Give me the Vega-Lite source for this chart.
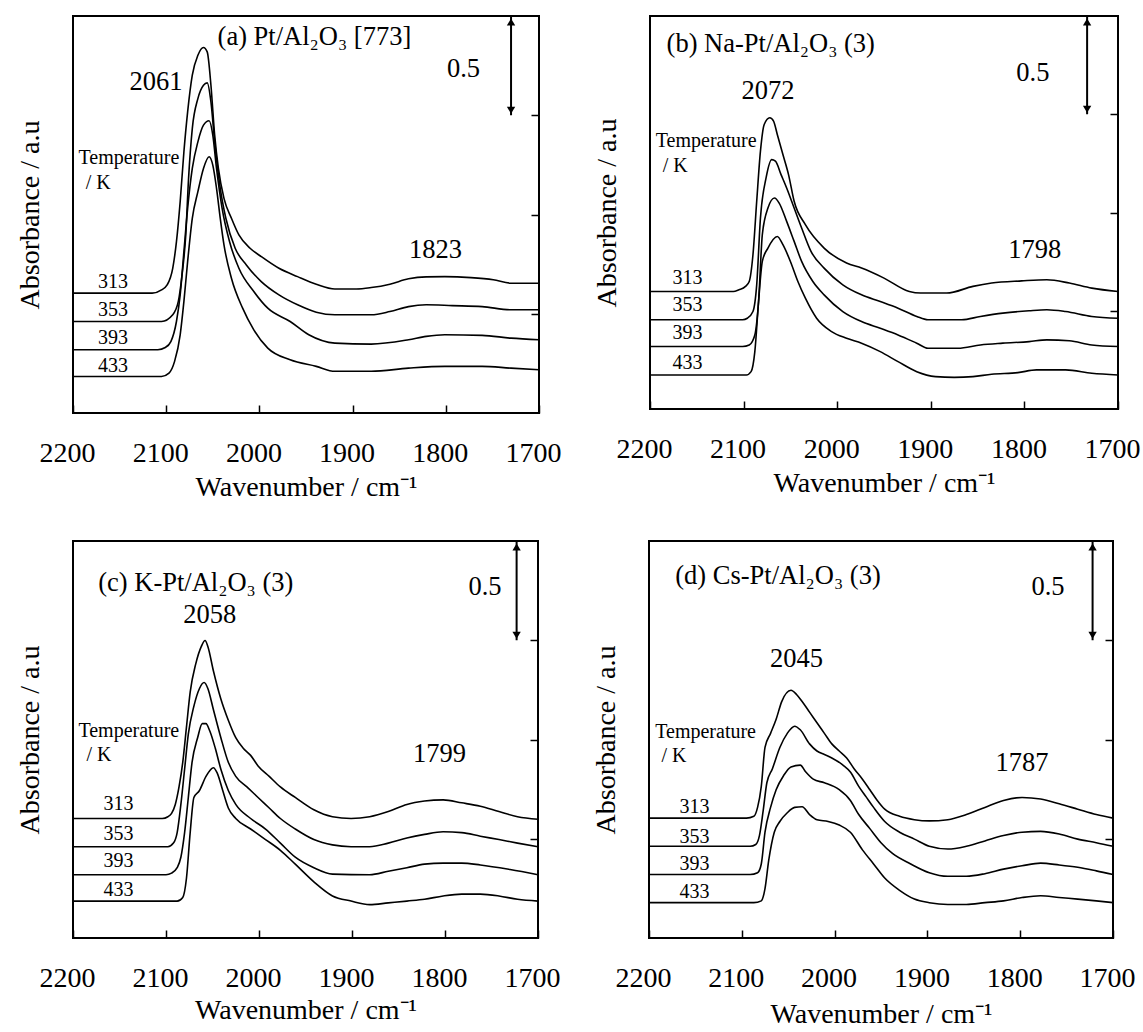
{
"$schema": "https://vega.github.io/schema/vega-lite/v6.json",
"padding": {"top": 14, "left": 15, "right": 0, "bottom": 0},
"background": "white",
"config": {
  "font": "Liberation Serif",
  "text": {"font": "Liberation Serif", "color": "black"},
  "view": {"stroke": "black", "strokeWidth": 2},
  "axis": {"labelFont": "Liberation Serif", "titleFont": "Liberation Serif", "labelColor": "black", "titleColor": "black", "titleFontWeight": "normal", "labelFontSize": 28, "titleFontSize": 28, "tickColor": "black", "tickWidth": 1.5, "grid": false, "domain": false}
},
"datasets": {
"a_c": [
{"T":"313","wn":2200,"v":0.604},{"T":"313","wn":2115,"v":0.604},{"T":"313","wn":2105,"v":0.620},{"T":"313","wn":2099,"v":0.645},{"T":"313","wn":2093,"v":0.729},{"T":"313","wn":2089,"v":0.863},{"T":"313","wn":2085,"v":1.065},{"T":"313","wn":2081,"v":1.316},{"T":"313","wn":2077,"v":1.517},{"T":"313","wn":2072,"v":1.702},{"T":"313","wn":2066,"v":1.802},{"T":"313","wn":2060,"v":1.841},{"T":"313","wn":2056,"v":1.819},{"T":"313","wn":2052,"v":1.651},{"T":"313","wn":2048,"v":1.400},{"T":"313","wn":2044,"v":1.232},{"T":"313","wn":2038,"v":1.081},{"T":"313","wn":2030,"v":0.981},{"T":"313","wn":2022,"v":0.897},{"T":"313","wn":2010,"v":0.830},{"T":"313","wn":1998,"v":0.788},{"T":"313","wn":1979,"v":0.729},{"T":"313","wn":1959,"v":0.687},{"T":"313","wn":1939,"v":0.649},{"T":"313","wn":1919,"v":0.625},{"T":"313","wn":1896,"v":0.625},{"T":"313","wn":1880,"v":0.632},{"T":"313","wn":1860,"v":0.649},{"T":"313","wn":1840,"v":0.676},{"T":"313","wn":1821,"v":0.686},{"T":"313","wn":1801,"v":0.687},{"T":"313","wn":1773,"v":0.682},{"T":"313","wn":1749,"v":0.671},{"T":"313","wn":1730,"v":0.654},{"T":"313","wn":1700,"v":0.654},
{"T":"353","wn":2200,"v":0.461},{"T":"353","wn":2105,"v":0.461},{"T":"353","wn":2093,"v":0.495},{"T":"353","wn":2087,"v":0.562},{"T":"353","wn":2083,"v":0.696},{"T":"353","wn":2079,"v":0.897},{"T":"353","wn":2076,"v":1.182},{"T":"353","wn":2072,"v":1.433},{"T":"353","wn":2066,"v":1.584},{"T":"353","wn":2060,"v":1.651},{"T":"353","wn":2056,"v":1.663},{"T":"353","wn":2052,"v":1.567},{"T":"353","wn":2048,"v":1.366},{"T":"353","wn":2042,"v":1.132},{"T":"353","wn":2036,"v":0.981},{"T":"353","wn":2026,"v":0.830},{"T":"353","wn":2014,"v":0.746},{"T":"353","wn":1998,"v":0.662},{"T":"353","wn":1979,"v":0.595},{"T":"353","wn":1959,"v":0.545},{"T":"353","wn":1939,"v":0.508},{"T":"353","wn":1919,"v":0.495},{"T":"353","wn":1880,"v":0.495},{"T":"353","wn":1860,"v":0.511},{"T":"353","wn":1840,"v":0.536},{"T":"353","wn":1821,"v":0.545},{"T":"353","wn":1793,"v":0.541},{"T":"353","wn":1761,"v":0.536},{"T":"353","wn":1730,"v":0.520},{"T":"353","wn":1700,"v":0.520},
{"T":"393","wn":2200,"v":0.319},{"T":"393","wn":2109,"v":0.319},{"T":"393","wn":2101,"v":0.330},{"T":"393","wn":2095,"v":0.360},{"T":"393","wn":2089,"v":0.461},{"T":"393","wn":2085,"v":0.595},{"T":"393","wn":2081,"v":0.813},{"T":"393","wn":2077,"v":1.031},{"T":"393","wn":2072,"v":1.232},{"T":"393","wn":2066,"v":1.366},{"T":"393","wn":2060,"v":1.450},{"T":"393","wn":2054,"v":1.472},{"T":"393","wn":2050,"v":1.400},{"T":"393","wn":2046,"v":1.232},{"T":"393","wn":2040,"v":1.031},{"T":"393","wn":2032,"v":0.863},{"T":"393","wn":2022,"v":0.729},{"T":"393","wn":2006,"v":0.612},{"T":"393","wn":1991,"v":0.528},{"T":"393","wn":1967,"v":0.461},{"T":"393","wn":1947,"v":0.394},{"T":"393","wn":1919,"v":0.352},{"T":"393","wn":1880,"v":0.347},{"T":"393","wn":1840,"v":0.369},{"T":"393","wn":1821,"v":0.386},{"T":"393","wn":1801,"v":0.394},{"T":"393","wn":1761,"v":0.391},{"T":"393","wn":1730,"v":0.377},{"T":"393","wn":1700,"v":0.369},
{"T":"433","wn":2200,"v":0.184},{"T":"433","wn":2105,"v":0.184},{"T":"433","wn":2097,"v":0.201},{"T":"433","wn":2091,"v":0.260},{"T":"433","wn":2085,"v":0.394},{"T":"433","wn":2081,"v":0.562},{"T":"433","wn":2077,"v":0.763},{"T":"433","wn":2072,"v":0.981},{"T":"433","wn":2066,"v":1.115},{"T":"433","wn":2060,"v":1.232},{"T":"433","wn":2054,"v":1.291},{"T":"433","wn":2050,"v":1.249},{"T":"433","wn":2046,"v":1.132},{"T":"433","wn":2042,"v":0.981},{"T":"433","wn":2038,"v":0.847},{"T":"433","wn":2030,"v":0.679},{"T":"433","wn":2018,"v":0.528},{"T":"433","wn":2006,"v":0.419},{"T":"433","wn":1991,"v":0.327},{"T":"433","wn":1967,"v":0.268},{"T":"433","wn":1939,"v":0.235},{"T":"433","wn":1919,"v":0.210},{"T":"433","wn":1880,"v":0.210},{"T":"433","wn":1840,"v":0.226},{"T":"433","wn":1801,"v":0.235},{"T":"433","wn":1761,"v":0.235},{"T":"433","wn":1730,"v":0.226},{"T":"433","wn":1700,"v":0.218}
],
"b_c": [
{"T":"313","wn":2200,"v":0.598},{"T":"313","wn":2111,"v":0.598},{"T":"313","wn":2105,"v":0.607},{"T":"313","wn":2098,"v":0.624},{"T":"313","wn":2094,"v":0.649},{"T":"313","wn":2090,"v":0.785},{"T":"313","wn":2086,"v":1.057},{"T":"313","wn":2082,"v":1.312},{"T":"313","wn":2078,"v":1.448},{"T":"313","wn":2072,"v":1.482},{"T":"313","wn":2068,"v":1.465},{"T":"313","wn":2064,"v":1.397},{"T":"313","wn":2058,"v":1.295},{"T":"313","wn":2052,"v":1.193},{"T":"313","wn":2046,"v":1.057},{"T":"313","wn":2034,"v":0.938},{"T":"313","wn":2014,"v":0.819},{"T":"313","wn":1990,"v":0.743},{"T":"313","wn":1974,"v":0.717},{"T":"313","wn":1950,"v":0.666},{"T":"313","wn":1923,"v":0.598},{"T":"313","wn":1911,"v":0.590},{"T":"313","wn":1883,"v":0.590},{"T":"313","wn":1855,"v":0.624},{"T":"313","wn":1835,"v":0.641},{"T":"313","wn":1803,"v":0.652},{"T":"313","wn":1776,"v":0.658},{"T":"313","wn":1752,"v":0.641},{"T":"313","wn":1728,"v":0.615},{"T":"313","wn":1700,"v":0.598},
{"T":"353","wn":2200,"v":0.454},{"T":"353","wn":2101,"v":0.454},{"T":"353","wn":2096,"v":0.462},{"T":"353","wn":2090,"v":0.496},{"T":"353","wn":2086,"v":0.632},{"T":"353","wn":2082,"v":0.972},{"T":"353","wn":2076,"v":1.176},{"T":"353","wn":2070,"v":1.269},{"T":"353","wn":2066,"v":1.261},{"T":"353","wn":2060,"v":1.193},{"T":"353","wn":2054,"v":1.125},{"T":"353","wn":2046,"v":1.023},{"T":"353","wn":2038,"v":0.921},{"T":"353","wn":2028,"v":0.802},{"T":"353","wn":2014,"v":0.717},{"T":"353","wn":1994,"v":0.632},{"T":"353","wn":1974,"v":0.581},{"T":"353","wn":1954,"v":0.547},{"T":"353","wn":1935,"v":0.513},{"T":"353","wn":1915,"v":0.471},{"T":"353","wn":1903,"v":0.454},{"T":"353","wn":1867,"v":0.454},{"T":"353","wn":1847,"v":0.471},{"T":"353","wn":1823,"v":0.488},{"T":"353","wn":1795,"v":0.500},{"T":"353","wn":1776,"v":0.505},{"T":"353","wn":1756,"v":0.496},{"T":"353","wn":1728,"v":0.471},{"T":"353","wn":1700,"v":0.462},
{"T":"393","wn":2200,"v":0.318},{"T":"393","wn":2101,"v":0.318},{"T":"393","wn":2094,"v":0.326},{"T":"393","wn":2088,"v":0.377},{"T":"393","wn":2084,"v":0.547},{"T":"393","wn":2080,"v":0.887},{"T":"393","wn":2074,"v":1.023},{"T":"393","wn":2067,"v":1.074},{"T":"393","wn":2062,"v":1.048},{"T":"393","wn":2054,"v":0.955},{"T":"393","wn":2046,"v":0.853},{"T":"393","wn":2038,"v":0.751},{"T":"393","wn":2026,"v":0.649},{"T":"393","wn":2014,"v":0.581},{"T":"393","wn":1994,"v":0.496},{"T":"393","wn":1974,"v":0.445},{"T":"393","wn":1954,"v":0.411},{"T":"393","wn":1935,"v":0.377},{"T":"393","wn":1915,"v":0.335},{"T":"393","wn":1903,"v":0.309},{"T":"393","wn":1871,"v":0.309},{"T":"393","wn":1847,"v":0.326},{"T":"393","wn":1823,"v":0.335},{"T":"393","wn":1795,"v":0.343},{"T":"393","wn":1776,"v":0.352},{"T":"393","wn":1752,"v":0.347},{"T":"393","wn":1728,"v":0.326},{"T":"393","wn":1700,"v":0.318},
{"T":"433","wn":2200,"v":0.173},{"T":"433","wn":2097,"v":0.173},{"T":"433","wn":2092,"v":0.190},{"T":"433","wn":2088,"v":0.292},{"T":"433","wn":2084,"v":0.547},{"T":"433","wn":2080,"v":0.751},{"T":"433","wn":2074,"v":0.819},{"T":"433","wn":2064,"v":0.878},{"T":"433","wn":2058,"v":0.836},{"T":"433","wn":2050,"v":0.751},{"T":"433","wn":2042,"v":0.649},{"T":"433","wn":2034,"v":0.564},{"T":"433","wn":2022,"v":0.462},{"T":"433","wn":2006,"v":0.394},{"T":"433","wn":1990,"v":0.360},{"T":"433","wn":1974,"v":0.335},{"T":"433","wn":1954,"v":0.292},{"T":"433","wn":1935,"v":0.241},{"T":"433","wn":1915,"v":0.190},{"T":"433","wn":1895,"v":0.165},{"T":"433","wn":1875,"v":0.161},{"T":"433","wn":1855,"v":0.165},{"T":"433","wn":1835,"v":0.177},{"T":"433","wn":1807,"v":0.185},{"T":"433","wn":1787,"v":0.199},{"T":"433","wn":1756,"v":0.199},{"T":"433","wn":1728,"v":0.182},{"T":"433","wn":1700,"v":0.173}
],
"c_c": [
{"T":"313","wn":2200,"v":0.602},{"T":"313","wn":2104,"v":0.602},{"T":"313","wn":2098,"v":0.611},{"T":"313","wn":2094,"v":0.628},{"T":"313","wn":2090,"v":0.673},{"T":"313","wn":2086,"v":0.761},{"T":"313","wn":2082,"v":0.885},{"T":"313","wn":2078,"v":1.062},{"T":"313","wn":2074,"v":1.239},{"T":"313","wn":2068,"v":1.381},{"T":"313","wn":2062,"v":1.469},{"T":"313","wn":2058,"v":1.499},{"T":"313","wn":2055,"v":1.469},{"T":"313","wn":2049,"v":1.345},{"T":"313","wn":2041,"v":1.204},{"T":"313","wn":2033,"v":1.097},{"T":"313","wn":2025,"v":1.009},{"T":"313","wn":2017,"v":0.956},{"T":"313","wn":2009,"v":0.920},{"T":"313","wn":2001,"v":0.867},{"T":"313","wn":1989,"v":0.814},{"T":"313","wn":1977,"v":0.761},{"T":"313","wn":1961,"v":0.708},{"T":"313","wn":1941,"v":0.646},{"T":"313","wn":1921,"v":0.611},{"T":"313","wn":1901,"v":0.602},{"T":"313","wn":1881,"v":0.611},{"T":"313","wn":1861,"v":0.637},{"T":"313","wn":1841,"v":0.673},{"T":"313","wn":1822,"v":0.690},{"T":"313","wn":1802,"v":0.696},{"T":"313","wn":1782,"v":0.681},{"T":"313","wn":1762,"v":0.664},{"T":"313","wn":1742,"v":0.637},{"T":"313","wn":1722,"v":0.611},{"T":"313","wn":1700,"v":0.598},
{"T":"353","wn":2200,"v":0.460},{"T":"353","wn":2098,"v":0.460},{"T":"353","wn":2092,"v":0.478},{"T":"353","wn":2088,"v":0.531},{"T":"353","wn":2084,"v":0.673},{"T":"353","wn":2080,"v":0.850},{"T":"353","wn":2076,"v":1.027},{"T":"353","wn":2070,"v":1.168},{"T":"353","wn":2064,"v":1.257},{"T":"353","wn":2059,"v":1.287},{"T":"353","wn":2055,"v":1.257},{"T":"353","wn":2049,"v":1.150},{"T":"353","wn":2041,"v":1.009},{"T":"353","wn":2033,"v":0.885},{"T":"353","wn":2025,"v":0.814},{"T":"353","wn":2013,"v":0.761},{"T":"353","wn":2001,"v":0.708},{"T":"353","wn":1989,"v":0.655},{"T":"353","wn":1977,"v":0.602},{"T":"353","wn":1961,"v":0.549},{"T":"353","wn":1941,"v":0.496},{"T":"353","wn":1921,"v":0.469},{"T":"353","wn":1901,"v":0.460},{"T":"353","wn":1881,"v":0.460},{"T":"353","wn":1861,"v":0.478},{"T":"353","wn":1841,"v":0.504},{"T":"353","wn":1822,"v":0.522},{"T":"353","wn":1802,"v":0.535},{"T":"353","wn":1782,"v":0.531},{"T":"353","wn":1762,"v":0.513},{"T":"353","wn":1742,"v":0.496},{"T":"353","wn":1722,"v":0.478},{"T":"353","wn":1700,"v":0.460},
{"T":"393","wn":2200,"v":0.319},{"T":"393","wn":2100,"v":0.319},{"T":"393","wn":2094,"v":0.327},{"T":"393","wn":2088,"v":0.354},{"T":"393","wn":2084,"v":0.407},{"T":"393","wn":2080,"v":0.531},{"T":"393","wn":2076,"v":0.708},{"T":"393","wn":2072,"v":0.885},{"T":"393","wn":2066,"v":1.009},{"T":"393","wn":2061,"v":1.080},{"T":"393","wn":2057,"v":1.080},{"T":"393","wn":2053,"v":1.044},{"T":"393","wn":2047,"v":0.956},{"T":"393","wn":2041,"v":0.850},{"T":"393","wn":2033,"v":0.743},{"T":"393","wn":2025,"v":0.673},{"T":"393","wn":2009,"v":0.602},{"T":"393","wn":1993,"v":0.549},{"T":"393","wn":1977,"v":0.478},{"T":"393","wn":1961,"v":0.407},{"T":"393","wn":1941,"v":0.354},{"T":"393","wn":1921,"v":0.322},{"T":"393","wn":1881,"v":0.319},{"T":"393","wn":1861,"v":0.336},{"T":"393","wn":1841,"v":0.354},{"T":"393","wn":1822,"v":0.372},{"T":"393","wn":1802,"v":0.377},{"T":"393","wn":1782,"v":0.377},{"T":"393","wn":1762,"v":0.368},{"T":"393","wn":1730,"v":0.345},{"T":"393","wn":1700,"v":0.319},
{"T":"433","wn":2200,"v":0.186},{"T":"433","wn":2088,"v":0.186},{"T":"433","wn":2082,"v":0.204},{"T":"433","wn":2078,"v":0.301},{"T":"433","wn":2074,"v":0.531},{"T":"433","wn":2070,"v":0.708},{"T":"433","wn":2064,"v":0.743},{"T":"433","wn":2057,"v":0.814},{"T":"433","wn":2049,"v":0.858},{"T":"433","wn":2045,"v":0.832},{"T":"433","wn":2039,"v":0.743},{"T":"433","wn":2033,"v":0.655},{"T":"433","wn":2025,"v":0.602},{"T":"433","wn":2009,"v":0.549},{"T":"433","wn":1993,"v":0.496},{"T":"433","wn":1977,"v":0.442},{"T":"433","wn":1961,"v":0.372},{"T":"433","wn":1941,"v":0.283},{"T":"433","wn":1921,"v":0.212},{"T":"433","wn":1901,"v":0.186},{"T":"433","wn":1881,"v":0.168},{"T":"433","wn":1861,"v":0.177},{"T":"433","wn":1841,"v":0.186},{"T":"433","wn":1822,"v":0.195},{"T":"433","wn":1802,"v":0.212},{"T":"433","wn":1782,"v":0.221},{"T":"433","wn":1762,"v":0.221},{"T":"433","wn":1742,"v":0.212},{"T":"433","wn":1722,"v":0.195},{"T":"433","wn":1700,"v":0.186}
],
"d_c": [
{"T":"313","wn":2200,"v":0.604},{"T":"313","wn":2095,"v":0.604},{"T":"313","wn":2087,"v":0.613},{"T":"313","wn":2083,"v":0.658},{"T":"313","wn":2079,"v":0.764},{"T":"313","wn":2075,"v":0.960},{"T":"313","wn":2069,"v":1.031},{"T":"313","wn":2063,"v":1.102},{"T":"313","wn":2057,"v":1.191},{"T":"313","wn":2047,"v":1.248},{"T":"313","wn":2041,"v":1.227},{"T":"313","wn":2035,"v":1.191},{"T":"313","wn":2027,"v":1.138},{"T":"313","wn":2019,"v":1.084},{"T":"313","wn":2011,"v":1.031},{"T":"313","wn":2003,"v":0.978},{"T":"313","wn":1995,"v":0.942},{"T":"313","wn":1987,"v":0.907},{"T":"313","wn":1979,"v":0.853},{"T":"313","wn":1970,"v":0.800},{"T":"313","wn":1962,"v":0.747},{"T":"313","wn":1954,"v":0.693},{"T":"313","wn":1946,"v":0.649},{"T":"313","wn":1930,"v":0.613},{"T":"313","wn":1914,"v":0.596},{"T":"313","wn":1898,"v":0.590},{"T":"313","wn":1878,"v":0.596},{"T":"313","wn":1858,"v":0.622},{"T":"313","wn":1838,"v":0.658},{"T":"313","wn":1818,"v":0.693},{"T":"313","wn":1798,"v":0.708},{"T":"313","wn":1778,"v":0.700},{"T":"313","wn":1758,"v":0.676},{"T":"313","wn":1738,"v":0.649},{"T":"313","wn":1718,"v":0.622},{"T":"313","wn":1700,"v":0.604},
{"T":"353","wn":2200,"v":0.462},{"T":"353","wn":2091,"v":0.462},{"T":"353","wn":2085,"v":0.471},{"T":"353","wn":2081,"v":0.516},{"T":"353","wn":2077,"v":0.640},{"T":"353","wn":2073,"v":0.782},{"T":"353","wn":2067,"v":0.853},{"T":"353","wn":2059,"v":0.960},{"T":"353","wn":2051,"v":1.031},{"T":"353","wn":2043,"v":1.067},{"T":"353","wn":2037,"v":1.049},{"T":"353","wn":2027,"v":0.978},{"T":"353","wn":2019,"v":0.942},{"T":"353","wn":2011,"v":0.924},{"T":"353","wn":2003,"v":0.907},{"T":"353","wn":1991,"v":0.871},{"T":"353","wn":1983,"v":0.836},{"T":"353","wn":1974,"v":0.764},{"T":"353","wn":1966,"v":0.711},{"T":"353","wn":1958,"v":0.658},{"T":"353","wn":1946,"v":0.587},{"T":"353","wn":1930,"v":0.533},{"T":"353","wn":1914,"v":0.498},{"T":"353","wn":1898,"v":0.462},{"T":"353","wn":1878,"v":0.448},{"T":"353","wn":1858,"v":0.462},{"T":"353","wn":1838,"v":0.489},{"T":"353","wn":1818,"v":0.516},{"T":"353","wn":1798,"v":0.533},{"T":"353","wn":1778,"v":0.537},{"T":"353","wn":1758,"v":0.524},{"T":"353","wn":1738,"v":0.498},{"T":"353","wn":1718,"v":0.480},{"T":"353","wn":1700,"v":0.462},
{"T":"393","wn":2200,"v":0.320},{"T":"393","wn":2091,"v":0.320},{"T":"393","wn":2083,"v":0.329},{"T":"393","wn":2079,"v":0.373},{"T":"393","wn":2075,"v":0.533},{"T":"393","wn":2069,"v":0.658},{"T":"393","wn":2063,"v":0.747},{"T":"393","wn":2055,"v":0.818},{"T":"393","wn":2047,"v":0.862},{"T":"393","wn":2037,"v":0.871},{"T":"393","wn":2031,"v":0.836},{"T":"393","wn":2023,"v":0.800},{"T":"393","wn":2011,"v":0.782},{"T":"393","wn":1995,"v":0.747},{"T":"393","wn":1983,"v":0.693},{"T":"393","wn":1974,"v":0.622},{"T":"393","wn":1962,"v":0.551},{"T":"393","wn":1950,"v":0.480},{"T":"393","wn":1938,"v":0.427},{"T":"393","wn":1918,"v":0.373},{"T":"393","wn":1898,"v":0.329},{"T":"393","wn":1878,"v":0.311},{"T":"393","wn":1858,"v":0.311},{"T":"393","wn":1838,"v":0.324},{"T":"393","wn":1818,"v":0.347},{"T":"393","wn":1798,"v":0.364},{"T":"393","wn":1778,"v":0.377},{"T":"393","wn":1758,"v":0.368},{"T":"393","wn":1738,"v":0.356},{"T":"393","wn":1718,"v":0.338},{"T":"393","wn":1700,"v":0.320},
{"T":"433","wn":2200,"v":0.178},{"T":"433","wn":2087,"v":0.178},{"T":"433","wn":2079,"v":0.187},{"T":"433","wn":2075,"v":0.249},{"T":"433","wn":2071,"v":0.391},{"T":"433","wn":2065,"v":0.533},{"T":"433","wn":2059,"v":0.587},{"T":"433","wn":2051,"v":0.631},{"T":"433","wn":2043,"v":0.658},{"T":"433","wn":2035,"v":0.661},{"T":"433","wn":2027,"v":0.622},{"T":"433","wn":2019,"v":0.596},{"T":"433","wn":2007,"v":0.587},{"T":"433","wn":1995,"v":0.569},{"T":"433","wn":1983,"v":0.533},{"T":"433","wn":1970,"v":0.444},{"T":"433","wn":1958,"v":0.373},{"T":"433","wn":1946,"v":0.302},{"T":"433","wn":1930,"v":0.240},{"T":"433","wn":1914,"v":0.196},{"T":"433","wn":1898,"v":0.178},{"T":"433","wn":1878,"v":0.169},{"T":"433","wn":1858,"v":0.169},{"T":"433","wn":1838,"v":0.178},{"T":"433","wn":1818,"v":0.187},{"T":"433","wn":1798,"v":0.204},{"T":"433","wn":1778,"v":0.213},{"T":"433","wn":1758,"v":0.204},{"T":"433","wn":1738,"v":0.196},{"T":"433","wn":1718,"v":0.187},{"T":"433","wn":1700,"v":0.178}
],
"a_t": [
{"role":"big","label":"(a) Pt/Al₂O₃ [773]","wn":1941,"v":1.894},
{"role":"big","label":"2061","wn":2111,"v":1.668},
{"role":"big","label":"1823","wn":1811,"v":0.821},
{"role":"big","label":"0.5","wn":1781,"v":1.735},
{"role":"small","label":"Temperature","wn":2140,"v":1.286},
{"role":"small","label":"/ K","wn":2173,"v":1.157},
{"role":"small","label":"313","wn":2157,"v":0.662},
{"role":"small","label":"353","wn":2157,"v":0.520},
{"role":"small","label":"393","wn":2157,"v":0.377},
{"role":"small","label":"433","wn":2157,"v":0.235}
],
"b_t": [
{"role":"big","label":"(b) Na-Pt/Al₂O₃ (3)","wn":2071,"v":1.856},
{"role":"big","label":"2072","wn":2074,"v":1.618},
{"role":"big","label":"1798","wn":1789,"v":0.811},
{"role":"big","label":"0.5","wn":1791,"v":1.711},
{"role":"small","label":"Temperature","wn":2140,"v":1.363},
{"role":"small","label":"/ K","wn":2173,"v":1.235},
{"role":"small","label":"313","wn":2160,"v":0.666},
{"role":"small","label":"353","wn":2160,"v":0.530},
{"role":"small","label":"393","wn":2160,"v":0.386},
{"role":"small","label":"433","wn":2160,"v":0.233}
],
"c_t": [
{"role":"big","label":"(c) K-Pt/Al₂O₃ (3)","wn":2068,"v":1.788},
{"role":"big","label":"2058","wn":2053,"v":1.628},
{"role":"big","label":"1799","wn":1806,"v":0.929},
{"role":"big","label":"0.5","wn":1757,"v":1.770},
{"role":"small","label":"Temperature","wn":2140,"v":1.044},
{"role":"small","label":"/ K","wn":2172,"v":0.920},
{"role":"small","label":"313","wn":2151,"v":0.673},
{"role":"small","label":"353","wn":2151,"v":0.526},
{"role":"small","label":"393","wn":2151,"v":0.389},
{"role":"small","label":"433","wn":2151,"v":0.242}
],
"d_t": [
{"role":"big","label":"(d) Cs-Pt/Al₂O₃ (3)","wn":2061,"v":1.822},
{"role":"big","label":"2045","wn":2041,"v":1.404},
{"role":"big","label":"1787","wn":1798,"v":0.880},
{"role":"big","label":"0.5","wn":1770,"v":1.769},
{"role":"small","label":"Temperature","wn":2139,"v":1.040},
{"role":"small","label":"/ K","wn":2173,"v":0.916},
{"role":"small","label":"313","wn":2151,"v":0.658},
{"role":"small","label":"353","wn":2151,"v":0.510},
{"role":"small","label":"393","wn":2151,"v":0.373},
{"role":"small","label":"433","wn":2151,"v":0.231}
],
"a_ar": [{"wn":1730,"v":1.5,"v2":2.0}],
"b_ar": [{"wn":1733,"v":1.5,"v2":2.0}],
"c_ar": [{"wn":1723,"v":1.5,"v2":2.0}],
"d_ar": [{"wn":1722,"v":1.5,"v2":2.0}]
},
"vconcat": [
{"hconcat": [
{"width": 466, "height": 397,
 "encoding": {"x": {"field": "wn", "type": "quantitative", "scale": {"domain": [2200, 1700], "nice": false, "zero": false}, "axis": {"orient": "bottom", "values": [2200,2100,2000,1900,1800,1700], "format": "d", "tickSize": -8, "labelPadding": 34, "labelOffset": -6, "labelFlush": false, "labelOverlap": false, "title": "Wavenumber / cm⁻¹", "titlePadding": 6}}},
 "layer": [
  {"data": {"name": "a_c"}, "mark": {"type": "line", "color": "black", "strokeWidth": 1.6, "interpolate": "monotone"}, "encoding": {"y": {"field": "v", "type": "quantitative", "scale": {"domain": [0, 2], "nice": false, "zero": false}, "axis": {"orient": "left", "title": "Absorbance / a.u", "ticks": false, "labels": false, "domain": false, "titlePadding": 29}}, "detail": {"field": "T"}}},
  {"data": {"name": "a_t"}, "transform": [{"filter": "datum.role == 'big'"}], "mark": {"type": "text", "fontSize": 26.5, "color": "black"}, "encoding": {"y": {"field": "v", "type": "quantitative", "scale": {"domain": [0, 2]}, "axis": null}, "text": {"field": "label"}}},
  {"data": {"name": "a_t"}, "transform": [{"filter": "datum.role == 'small'"}], "mark": {"type": "text", "fontSize": 20, "color": "black"}, "encoding": {"y": {"field": "v", "type": "quantitative", "scale": {"domain": [0, 2]}, "axis": null}, "text": {"field": "label"}}},
  {"data": {"name": "a_ar"}, "mark": {"type": "rule", "color": "black", "strokeWidth": 2}, "encoding": {"y": {"field": "v", "type": "quantitative", "scale": {"domain": [0, 2]}, "axis": {"orient": "right", "title": null, "labels": false, "domain": false, "tickSize": -8, "values": [0.5, 1, 1.5]}}, "y2": {"field": "v2"}}},
  {"data": {"name": "a_ar"}, "mark": {"type": "point", "shape": "triangle-up", "filled": true, "color": "black", "size": 70, "opacity": 1, "yOffset": 6}, "encoding": {"y": {"field": "v2", "type": "quantitative", "scale": {"domain": [0, 2]}, "axis": null}}},
  {"data": {"name": "a_ar"}, "mark": {"type": "point", "shape": "triangle-down", "filled": true, "color": "black", "size": 70, "opacity": 1, "yOffset": -5}, "encoding": {"y": {"field": "v", "type": "quantitative", "scale": {"domain": [0, 2]}, "axis": null}}}
 ],
 "resolve": {"axis": {"y": "independent"}}
},
{"width": 468, "height": 393,
 "encoding": {"x": {"field": "wn", "type": "quantitative", "scale": {"domain": [2200, 1700], "nice": false, "zero": false}, "axis": {"orient": "bottom", "values": [2200,2100,2000,1900,1800,1700], "format": "d", "tickSize": -8, "labelPadding": 34, "labelOffset": -6, "labelFlush": false, "labelOverlap": false, "title": "Wavenumber / cm⁻¹", "titlePadding": 6}}},
 "layer": [
  {"data": {"name": "b_c"}, "mark": {"type": "line", "color": "black", "strokeWidth": 1.6, "interpolate": "monotone"}, "encoding": {"y": {"field": "v", "type": "quantitative", "scale": {"domain": [0, 2], "nice": false, "zero": false}, "axis": {"orient": "left", "title": "Absorbance / a.u", "ticks": false, "labels": false, "domain": false, "titlePadding": 29}}, "detail": {"field": "T"}}},
  {"data": {"name": "b_t"}, "transform": [{"filter": "datum.role == 'big'"}], "mark": {"type": "text", "fontSize": 26.5, "color": "black"}, "encoding": {"y": {"field": "v", "type": "quantitative", "scale": {"domain": [0, 2]}, "axis": null}, "text": {"field": "label"}}},
  {"data": {"name": "b_t"}, "transform": [{"filter": "datum.role == 'small'"}], "mark": {"type": "text", "fontSize": 20, "color": "black"}, "encoding": {"y": {"field": "v", "type": "quantitative", "scale": {"domain": [0, 2]}, "axis": null}, "text": {"field": "label"}}},
  {"data": {"name": "b_ar"}, "mark": {"type": "rule", "color": "black", "strokeWidth": 2}, "encoding": {"y": {"field": "v", "type": "quantitative", "scale": {"domain": [0, 2]}, "axis": {"orient": "right", "title": null, "labels": false, "domain": false, "tickSize": -8, "values": [0.5, 1, 1.5]}}, "y2": {"field": "v2"}}},
  {"data": {"name": "b_ar"}, "mark": {"type": "point", "shape": "triangle-up", "filled": true, "color": "black", "size": 70, "opacity": 1, "yOffset": 6}, "encoding": {"y": {"field": "v2", "type": "quantitative", "scale": {"domain": [0, 2]}, "axis": null}}},
  {"data": {"name": "b_ar"}, "mark": {"type": "point", "shape": "triangle-down", "filled": true, "color": "black", "size": 70, "opacity": 1, "yOffset": -5}, "encoding": {"y": {"field": "v", "type": "quantitative", "scale": {"domain": [0, 2]}, "axis": null}}}
 ],
 "resolve": {"axis": {"y": "independent"}}
}
], "spacing": 30},
{"hconcat": [
{"width": 465, "height": 397,
 "encoding": {"x": {"field": "wn", "type": "quantitative", "scale": {"domain": [2200, 1700], "nice": false, "zero": false}, "axis": {"orient": "bottom", "values": [2200,2100,2000,1900,1800,1700], "format": "d", "tickSize": -8, "labelPadding": 34, "labelOffset": -6, "labelFlush": false, "labelOverlap": false, "title": "Wavenumber / cm⁻¹", "titlePadding": 4}}},
 "layer": [
  {"data": {"name": "c_c"}, "mark": {"type": "line", "color": "black", "strokeWidth": 1.6, "interpolate": "monotone"}, "encoding": {"y": {"field": "v", "type": "quantitative", "scale": {"domain": [0, 2], "nice": false, "zero": false}, "axis": {"orient": "left", "title": "Absorbance / a.u", "ticks": false, "labels": false, "domain": false, "titlePadding": 29}}, "detail": {"field": "T"}}},
  {"data": {"name": "c_t"}, "transform": [{"filter": "datum.role == 'big'"}], "mark": {"type": "text", "fontSize": 26.5, "color": "black"}, "encoding": {"y": {"field": "v", "type": "quantitative", "scale": {"domain": [0, 2]}, "axis": null}, "text": {"field": "label"}}},
  {"data": {"name": "c_t"}, "transform": [{"filter": "datum.role == 'small'"}], "mark": {"type": "text", "fontSize": 20, "color": "black"}, "encoding": {"y": {"field": "v", "type": "quantitative", "scale": {"domain": [0, 2]}, "axis": null}, "text": {"field": "label"}}},
  {"data": {"name": "c_ar"}, "mark": {"type": "rule", "color": "black", "strokeWidth": 2}, "encoding": {"y": {"field": "v", "type": "quantitative", "scale": {"domain": [0, 2]}, "axis": {"orient": "right", "title": null, "labels": false, "domain": false, "tickSize": -8, "values": [0.5, 1, 1.5]}}, "y2": {"field": "v2"}}},
  {"data": {"name": "c_ar"}, "mark": {"type": "point", "shape": "triangle-up", "filled": true, "color": "black", "size": 70, "opacity": 1, "yOffset": 6}, "encoding": {"y": {"field": "v2", "type": "quantitative", "scale": {"domain": [0, 2]}, "axis": null}}},
  {"data": {"name": "c_ar"}, "mark": {"type": "point", "shape": "triangle-down", "filled": true, "color": "black", "size": 70, "opacity": 1, "yOffset": -5}, "encoding": {"y": {"field": "v", "type": "quantitative", "scale": {"domain": [0, 2]}, "axis": null}}}
 ],
 "resolve": {"axis": {"y": "independent"}}
},
{"width": 464, "height": 397,
 "encoding": {"x": {"field": "wn", "type": "quantitative", "scale": {"domain": [2200, 1700], "nice": false, "zero": false}, "axis": {"orient": "bottom", "values": [2200,2100,2000,1900,1800,1700], "format": "d", "tickSize": -8, "labelPadding": 34, "labelOffset": -6, "labelFlush": false, "labelOverlap": false, "title": "Wavenumber / cm⁻¹", "titlePadding": 8}}},
 "layer": [
  {"data": {"name": "d_c"}, "mark": {"type": "line", "color": "black", "strokeWidth": 1.6, "interpolate": "monotone"}, "encoding": {"y": {"field": "v", "type": "quantitative", "scale": {"domain": [0, 2], "nice": false, "zero": false}, "axis": {"orient": "left", "title": "Absorbance / a.u", "ticks": false, "labels": false, "domain": false, "titlePadding": 29}}, "detail": {"field": "T"}}},
  {"data": {"name": "d_t"}, "transform": [{"filter": "datum.role == 'big'"}], "mark": {"type": "text", "fontSize": 26.5, "color": "black"}, "encoding": {"y": {"field": "v", "type": "quantitative", "scale": {"domain": [0, 2]}, "axis": null}, "text": {"field": "label"}}},
  {"data": {"name": "d_t"}, "transform": [{"filter": "datum.role == 'small'"}], "mark": {"type": "text", "fontSize": 20, "color": "black"}, "encoding": {"y": {"field": "v", "type": "quantitative", "scale": {"domain": [0, 2]}, "axis": null}, "text": {"field": "label"}}},
  {"data": {"name": "d_ar"}, "mark": {"type": "rule", "color": "black", "strokeWidth": 2}, "encoding": {"y": {"field": "v", "type": "quantitative", "scale": {"domain": [0, 2]}, "axis": {"orient": "right", "title": null, "labels": false, "domain": false, "tickSize": -8, "values": [0.5, 1, 1.5]}}, "y2": {"field": "v2"}}},
  {"data": {"name": "d_ar"}, "mark": {"type": "point", "shape": "triangle-up", "filled": true, "color": "black", "size": 70, "opacity": 1, "yOffset": 6}, "encoding": {"y": {"field": "v2", "type": "quantitative", "scale": {"domain": [0, 2]}, "axis": null}}},
  {"data": {"name": "d_ar"}, "mark": {"type": "point", "shape": "triangle-down", "filled": true, "color": "black", "size": 70, "opacity": 1, "yOffset": -5}, "encoding": {"y": {"field": "v", "type": "quantitative", "scale": {"domain": [0, 2]}, "axis": null}}}
 ],
 "resolve": {"axis": {"y": "independent"}}
}
], "spacing": 30}
], "spacing": 37
}
